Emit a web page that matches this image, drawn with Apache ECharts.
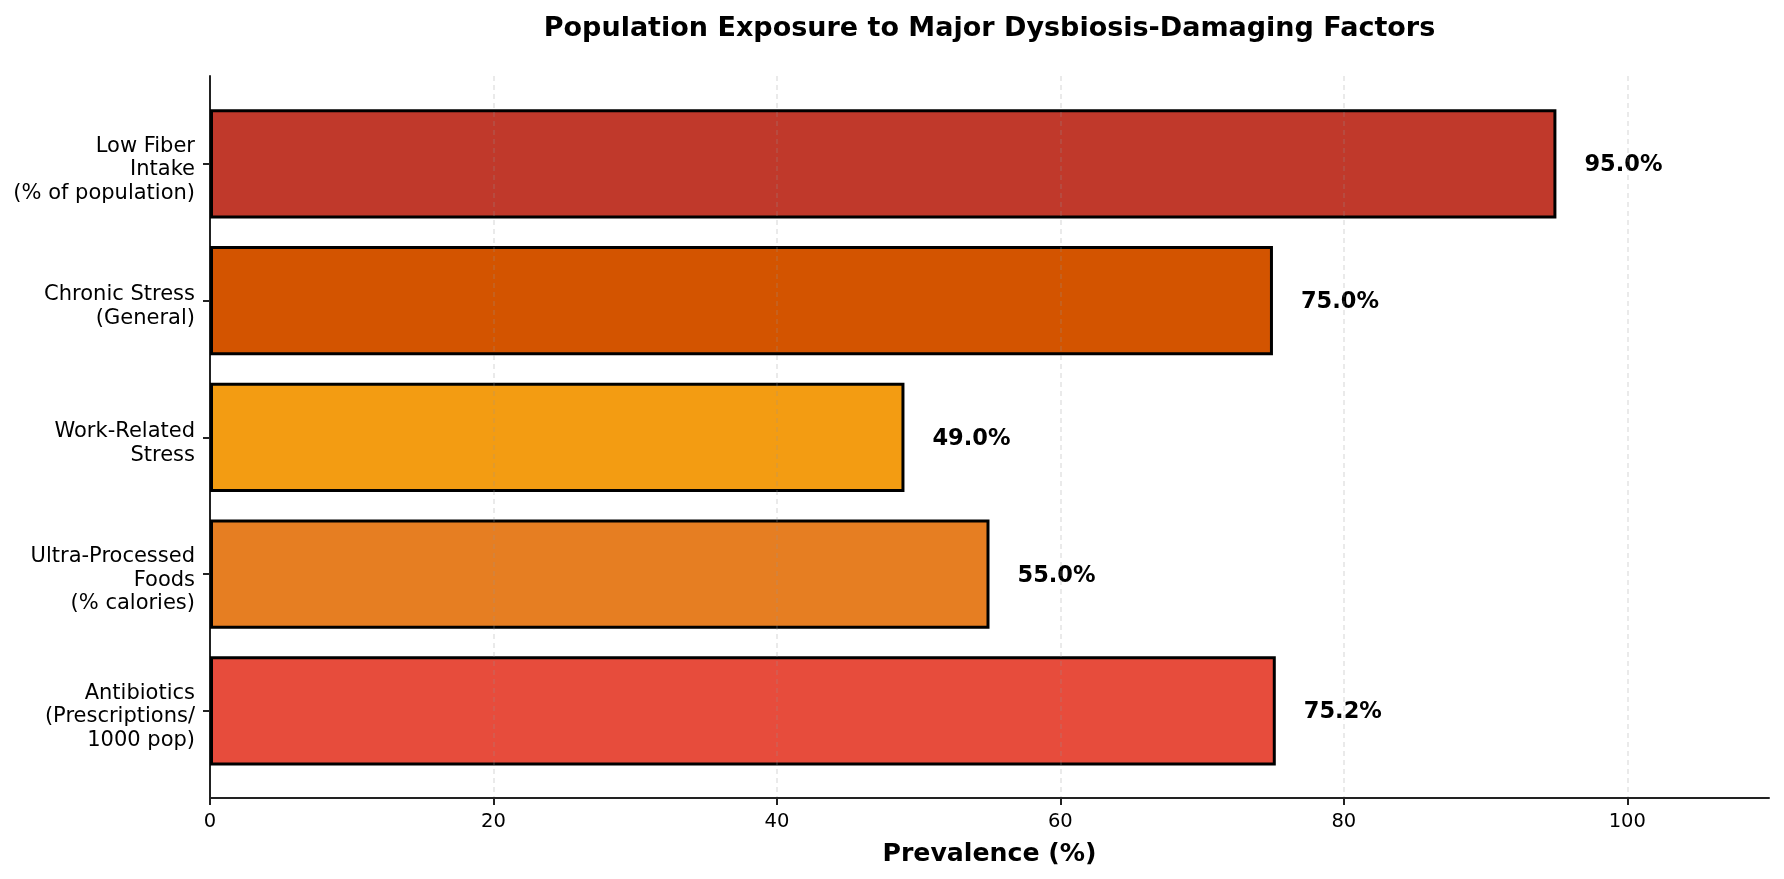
<!DOCTYPE html>
<html>
<head>
<meta charset="utf-8">
<script src="https://cdn.jsdelivr.net/npm/echarts@6/dist/echarts.min.js"></script>
<style>
html,body{margin:0;padding:0;background:#fff;}
#chart{width:1784px;height:879px;}
</style>
</head>
<body>
<div id="chart"></div>
<script>
const categories = [
  'Low Fiber\nIntake\n(% of population)',
  'Chronic Stress\n(General)',
  'Work-Related\nStress',
  'Ultra-Processed\nFoods\n(% calories)',
  'Antibiotics\n(Prescriptions/\n1000 pop)'
];
const values = [95.0, 75.0, 49.0, 55.0, 75.2];
const barColors = ['#c0392b', '#d35400', '#f39c12', '#e67e22', '#e74c3c'];
const xTicks = [0, 20, 40, 60, 80, 100];
const xMin = 0, xMax = 110;

const FONT = 'DejaVu Sans';
const AXIS_COLOR = '#222222';
const chart = echarts.init(document.getElementById('chart'), null, {renderer: 'canvas'});

chart.setOption({
  backgroundColor: '#ffffff',
  animation: false,
  title: {
    text: 'Population Exposure to Major Dysbiosis-Damaging Factors',
    left: 989.5,
    top: 15.5,
    padding: 0,
    textAlign: 'center',
    textStyle: {fontFamily: FONT, fontSize: 27, fontWeight: 'bold', color: '#000'}
  },
  grid: [
    {left: 210, right: 15, top: 76, bottom: 81, containLabel: false},
    {left: 210, right: 15, top: 95.5, bottom: 99.7, containLabel: false}
  ],
  xAxis: [
    {
      type: 'value', gridIndex: 0, min: xMin, max: xMax, interval: 20, z: 5,
      name: 'Prevalence (%)', nameLocation: 'middle', nameGap: 44,
      nameTextStyle: {fontFamily: FONT, fontSize: 25.2, fontWeight: 'bold', color: '#000'},
      axisLine: {show: true, lineStyle: {color: AXIS_COLOR, width: 2}},
      axisTick: {show: true, length: 7, lineStyle: {color: AXIS_COLOR, width: 2}, customValues: xTicks},
      axisLabel: {
        show: true, margin: 14, fontFamily: FONT, fontSize: 19.5, color: '#000',
        customValues: xTicks,
        formatter: v => (xTicks.indexOf(v) >= 0 ? String(v) : '')
      },
      splitLine: {show: true, showMinLine: false, lineStyle: {color: 'rgba(150,150,150,0.2)', width: 2, type: [5, 4]}}
    },
    {
      type: 'value', gridIndex: 1, min: xMin, max: xMax, show: false,
      splitLine: {show: false}
    }
  ],
  yAxis: [
    {
      type: 'value', gridIndex: 0, min: 0, max: 1,
      axisLine: {show: true, lineStyle: {color: AXIS_COLOR, width: 2}},
      axisTick: {show: false}, axisLabel: {show: false}, splitLine: {show: false}
    },
    {
      type: 'category', gridIndex: 1, data: categories, inverse: true,
      axisLine: {show: false},
      axisTick: {show: true, alignWithLabel: true, length: 7, lineStyle: {color: AXIS_COLOR, width: 2}},
      axisLabel: {
        margin: 15, align: 'right',
        formatter: v => '{s|}\n' + v.split('\n').map(l => '{t|' + l + '}').join('\n'),
        rich: {
          s: {fontSize: 1, lineHeight: 12},
          t: {fontFamily: FONT, fontSize: 21, lineHeight: 23.3, color: '#000', align: 'right'}
        }
      },
      splitLine: {show: false}
    }
  ],
  series: [{
    type: 'bar',
    xAxisIndex: 1, yAxisIndex: 1,
    barWidth: '80%',
    data: values.map((v, i) => ({
      value: v,
      itemStyle: {color: barColors[i], borderColor: '#000', borderWidth: 3}
    })),
    label: {
      show: true, position: 'right', distance: 28, offset: [0, 1.5],
      fontFamily: FONT, fontSize: 22.5, fontWeight: 'bold', color: '#000',
      formatter: p => p.value.toFixed(1) + '%'
    }
  }]
});
</script>
</body>
</html>
